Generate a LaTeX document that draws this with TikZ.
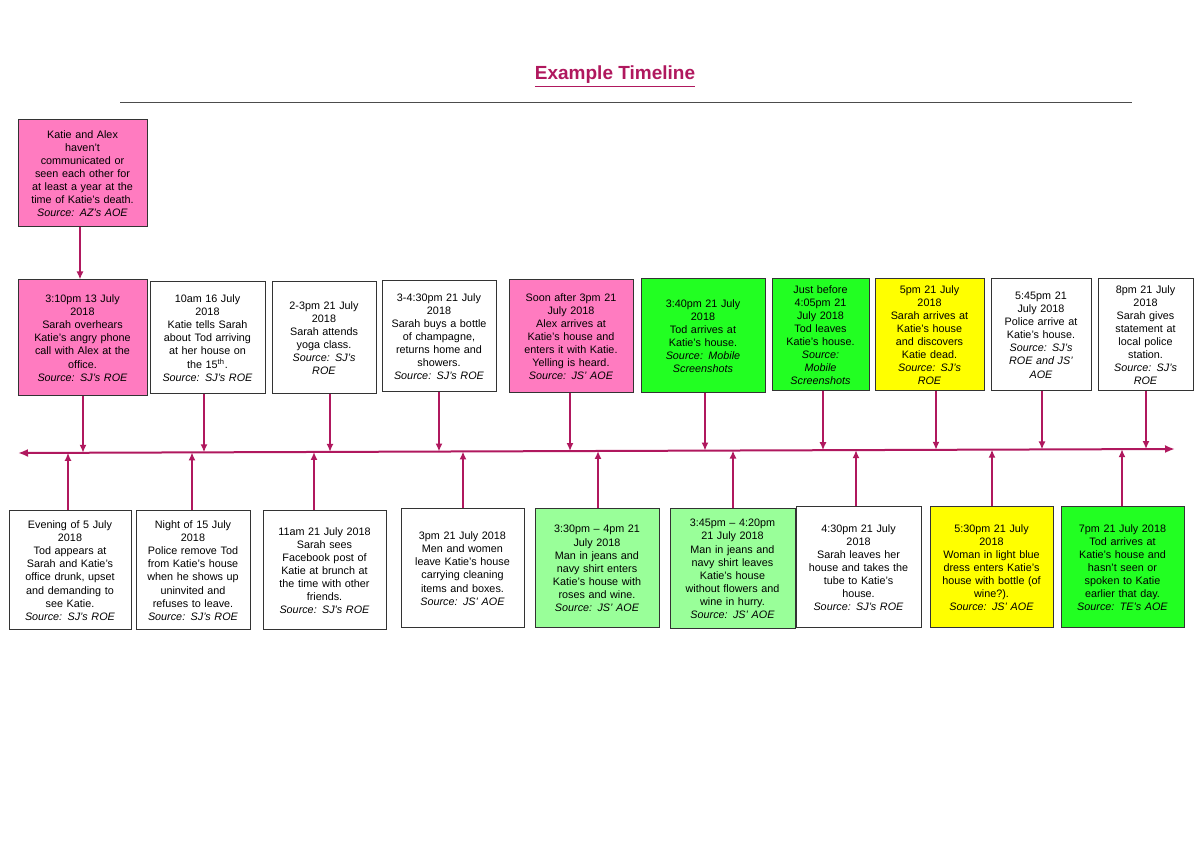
\documentclass[tikz,border=0pt]{standalone}
\usetikzlibrary{arrows.meta}
\usepackage{fontspec}
\setmainfont{Liberation Sans}
\begin{document}
\begin{tikzpicture}[x=0.5pt,y=-0.5pt,
  box/.style={draw=black!80,line width=0.5pt,inner sep=0pt,align=center,font=\fontsize{5.4}{6.55}\selectfont},
  con/.style={draw=crim,line width=0.8pt,-{Latex[length=4pt,width=3.5pt]}}]
\definecolor{crim}{HTML}{B0185E}
\definecolor{pk}{HTML}{FF7BC0}
\definecolor{gr}{HTML}{22FF22}
\definecolor{lg}{HTML}{99FF99}
\definecolor{yl}{HTML}{FFFF00}
\useasboundingbox (0,0) rectangle (1200,849);
\newcommand\tbox[7]{%
 \pgfmathsetmacro\bw{(#4-#2)*0.5}\pgfmathsetmacro\bh{(#5-#3)*0.5}\pgfmathsetmacro\tw{(#4-#2)*0.5-5}%
 \node[box,fill=#6,minimum width=\bw pt,minimum height=\bh pt,text width=\tw pt] (#1) at ({(#2+#4)/2},{(#3+#5)/2}) {#7};}
\node[font=\bfseries\fontsize{9.5}{11}\selectfont,text=crim] (title) at (615,77) {\underline{Example Timeline}};
\coordinate (r1) at (120,102); \coordinate (r2) at (1132,102);
\draw[black!70,line width=0.4pt] (r1) -- (r2);
% intro
\tbox{intro}{18}{120}{147}{227}{pk}{Katie and Alex\\haven't\\communicated or\\seen each other for\\at least a year at the\\time of Katie's death.\\\textit{Source: AZ's AOE}}
% top row
\tbox{t1}{18}{280}{147}{396}{pk}{3:10pm 13 July\\2018\\Sarah overhears\\Katie's angry phone\\call with Alex at the\\office.\\\textit{Source: SJ's ROE}}
\tbox{t2}{150}{282}{265}{394}{white}{10am 16 July\\2018\\Katie tells Sarah\\about Tod arriving\\at her house on\\the 15\textsuperscript{th}.\\\textit{Source: SJ's ROE}}
\tbox{t3}{272}{282}{376}{394}{white}{2-3pm 21 July\\2018\\Sarah attends\\yoga class.\\\textit{Source: SJ's}\\\textit{ROE}\\[12pt]}
\tbox{t4}{382}{281}{496}{392}{white}{3-4:30pm 21 July\\2018\\Sarah buys a bottle\\of champagne,\\returns home and\\showers.\\\textit{Source: SJ's ROE}\\[3pt]}
\tbox{t5}{509}{280}{633}{393}{pk}{Soon after 3pm 21\\July 2018\\Alex arrives at\\Katie's house and\\enters it with Katie.\\Yelling is heard.\\\textit{Source: JS' AOE}\\[5pt]}
\tbox{t6}{641}{279}{765}{393}{gr}{3:40pm 21 July\\2018\\Tod arrives at\\Katie's house.\\\textit{Source: Mobile}\\\textit{Screenshots}\\[5pt]}
\tbox{t7}{772}{279}{869}{391}{gr}{Just before\\4:05pm 21\\July 2018\\Tod leaves\\Katie's house.\\\textit{Source:}\\\textit{Mobile}\\\textit{Screenshots}}
\tbox{t8}{875}{279}{984}{391}{yl}{5pm 21 July\\2018\\Sarah arrives at\\Katie's house\\and discovers\\Katie dead.\\\textit{Source: SJ's}\\\textit{ROE}}
\tbox{t9}{991}{279}{1091}{391}{white}{5:45pm 21\\July 2018\\Police arrive at\\Katie's house.\\\textit{Source: SJ's}\\\textit{ROE and JS'}\\\textit{AOE}\\[3pt]}
\tbox{t10}{1098}{279}{1193}{391}{white}{8pm 21 July\\2018\\Sarah gives\\statement at\\local police\\station.\\\textit{Source: SJ's}\\\textit{ROE}}
% bottom row
\tbox{b1}{9}{511}{131}{630}{white}{Evening of 5 July\\2018\\Tod appears at\\Sarah and Katie's\\office drunk, upset\\and demanding to\\see Katie.\\\textit{Source: SJ's ROE}}
\tbox{b2}{136}{511}{250}{630}{white}{Night of 15 July\\2018\\Police remove Tod\\from Katie's house\\when he shows up\\uninvited and\\refuses to leave.\\\textit{Source: SJ's ROE}}
\tbox{b3}{263}{511}{386}{630}{white}{11am 21 July 2018\\Sarah sees\\Facebook post of\\Katie at brunch at\\the time with other\\friends.\\\textit{Source: SJ's ROE}\\[12pt]}
\tbox{b4}{401}{509}{524}{628}{white}{3pm 21 July 2018\\Men and women\\leave Katie's house\\carrying cleaning\\items and boxes.\\\textit{Source: JS' AOE}\\[15pt]}
\tbox{b5}{535}{509}{659}{628}{lg}{3:30pm -- 4pm 21\\July 2018\\Man in jeans and\\navy shirt enters\\Katie's house with\\roses and wine.\\\textit{Source: JS' AOE}\\[2pt]}
\tbox{b6}{670}{509}{795}{629}{lg}{3:45pm -- 4:20pm\\21 July 2018\\Man in jeans and\\navy shirt leaves\\Katie's house\\without flowers and\\wine in hurry.\\\textit{Source: JS' AOE}}
\tbox{b7}{796}{507}{921}{628}{white}{4:30pm 21 July\\2018\\Sarah leaves her\\house and takes the\\tube to Katie's\\house.\\\textit{Source: SJ's ROE}\\[10pt]}
\tbox{b8}{930}{507}{1053}{628}{yl}{5:30pm 21 July\\2018\\Woman in light blue\\dress enters Katie's\\house with bottle (of\\wine?).\\\textit{Source: JS' AOE}\\[10pt]}
\tbox{b9}{1061}{507}{1184}{628}{gr}{7pm 21 July 2018\\Tod arrives at\\Katie's house and\\hasn't seen or\\spoken to Katie\\earlier that day.\\\textit{Source: TE's AOE}\\[10pt]}
% axis
\coordinate (L) at (18,453); \coordinate (R) at (1175,449);
\draw[draw=crim,line width=1pt,{Latex[length=5pt,width=4pt]}-{Latex[length=5pt,width=4pt]}] (L) -- (R);
\draw[con] (intro.south -| 80,0) -- (t1.north -| 80,0);
\foreach \n/\x in {t1/83,t2/204,t3/330,t4/439,t5/570,t6/705,t7/823,t8/936,t9/1042,t10/1146}{
  \pgfmathsetmacro\yy{453-4*(\x-18)/1157}
  \coordinate (a\n) at (\x,\yy);
  \draw[con] (\n.south -| a\n) -- (a\n);}
\foreach \n/\x in {b1/68,b2/192,b3/314,b4/463,b5/598,b6/733,b7/856,b8/992,b9/1122}{
  \pgfmathsetmacro\yy{453-4*(\x-18)/1157}
  \coordinate (a\n) at (\x,\yy);
  \draw[con] (\n.north -| a\n) -- (a\n);}
\end{tikzpicture}
\end{document}
